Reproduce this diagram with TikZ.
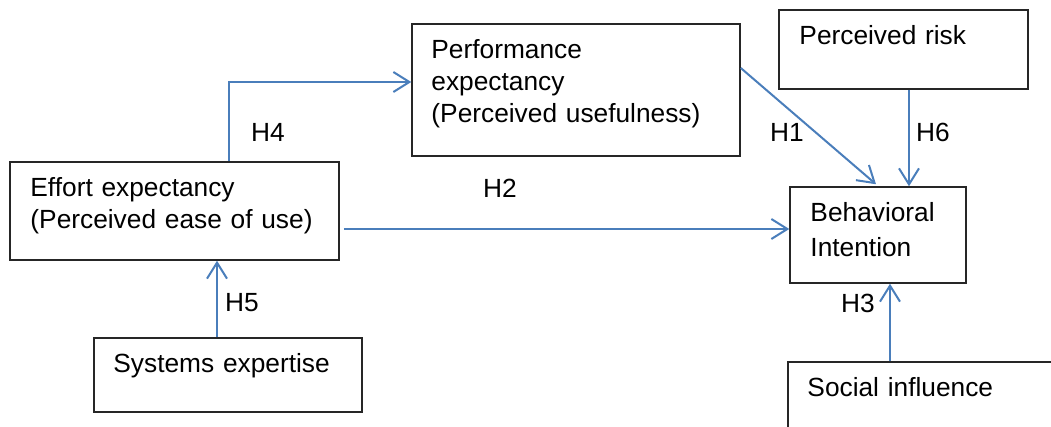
\documentclass[tikz,border=0pt]{standalone}
\usepackage{fontspec}
\setmainfont{Liberation Sans}
\usepackage{xcolor}
\definecolor{lnk}{RGB}{74,126,187}
\usepackage{tikz}
\usetikzlibrary{arrows.meta, positioning, calc}
\tikzstyle{block} = [draw=black!85, line width=1.5pt, rectangle, inner sep=0pt]
\tikzstyle{txt} = [inner sep=0pt, text width=300pt, align=left, text height=0pt, anchor=north west, font=\fontsize{26.3}{32}\selectfont]
\tikzstyle{hyp} = [inner sep=0pt, font=\fontsize{26.3}{32}\selectfont]
\tikzstyle{link} = [draw=lnk, line width=2pt, -{Straight Barb[length=16pt, width=20pt]}]

\begin{document}
\begin{tikzpicture}[x=1pt, y=-1pt]
    \useasboundingbox (0,0) rectangle (1051,427);
    \clip (0,0) rectangle (1051,427);

    % blocks
    \node[block, minimum width=329pt, minimum height=98pt] (eff) at (174.5,211) {};
    \node[block, minimum width=268pt, minimum height=74pt] (sys) at (228,375) {};
    \node[block, minimum width=328pt, minimum height=132pt] (perf) at (576,90) {};
    \node[block, minimum width=249pt, minimum height=79pt] (risk) at (903.5,49.5) {};
    \node[block, minimum width=176pt, minimum height=96pt] (beh) at (878,235) {};
    \node[block, minimum width=280pt, minimum height=80pt] (soc) at (928,402) {};

    % texts, baseline 35 below the top edge
    \node[txt] (eff-t) at ($(eff.north west)+(21,35)$) {Effort expectancy\\(Perceived ease of use)};
    \node[txt] (sys-t) at ($(sys.north west)+(20,35)$) {Systems expertise};
    \node[txt] (perf-t) at ($(perf.north west)+(20,35)$) {Performance\\expectancy\\(Perceived usefulness)};
    \node[txt] (risk-t) at ($(risk.north west)+(21,35)$) {Perceived risk};
    \node[txt, font=\fontsize{26.3}{35}\selectfont] (beh-t) at ($(beh.north west)+(21,35)$) {Behavioral\\Intention};
    \node[txt] (soc-t) at ($(soc.north west)+(20,35)$) {Social influence};

    % end points off the block centres
    \coordinate (h4a) at ($(eff.north)+(54.5,0)$);
    \coordinate (h4b) at ($(perf.west)+(0,-8)$);
    \coordinate (h2a) at ($(eff.east)+(4,18)$);
    \coordinate (h2b) at ($(beh.west)+(0,-6)$);
    \coordinate (h5a) at ($(sys.north)+(-11,0)$);
    \coordinate (h1a) at ($(perf.east)+(0,-22)$);
    \coordinate (h1b) at ($(beh.north)+(-2,-2)$);
    \coordinate (h6a) at ($(risk.south)+(5.5,0)$);
    \coordinate (h3b) at ($(beh.south)+(12,0)$);

    % hypotheses
    \draw[link] (h4a) |- (h4b);
    \draw[link] (h2a) -- (h2b);
    \draw[link] (h5a) -- (h5a |- eff.south);
    \draw[link] (h1a) -- (h1b);
    \draw[link] (h6a) -- (h6a |- beh.north);
    \draw[link] (h3b |- soc.north) -- (h3b);

    % labels
    \node[hyp] (h1) at (787,132) {H1};
    \node[hyp] (h2) at (500,188) {H2};
    \node[hyp] (h3) at (858,303) {H3};
    \node[hyp] (h4) at (268,132) {H4};
    \node[hyp] (h5) at (242,303) {H5};
    \node[hyp] (h6) at (933,132) {H6};
\end{tikzpicture}
\end{document}
